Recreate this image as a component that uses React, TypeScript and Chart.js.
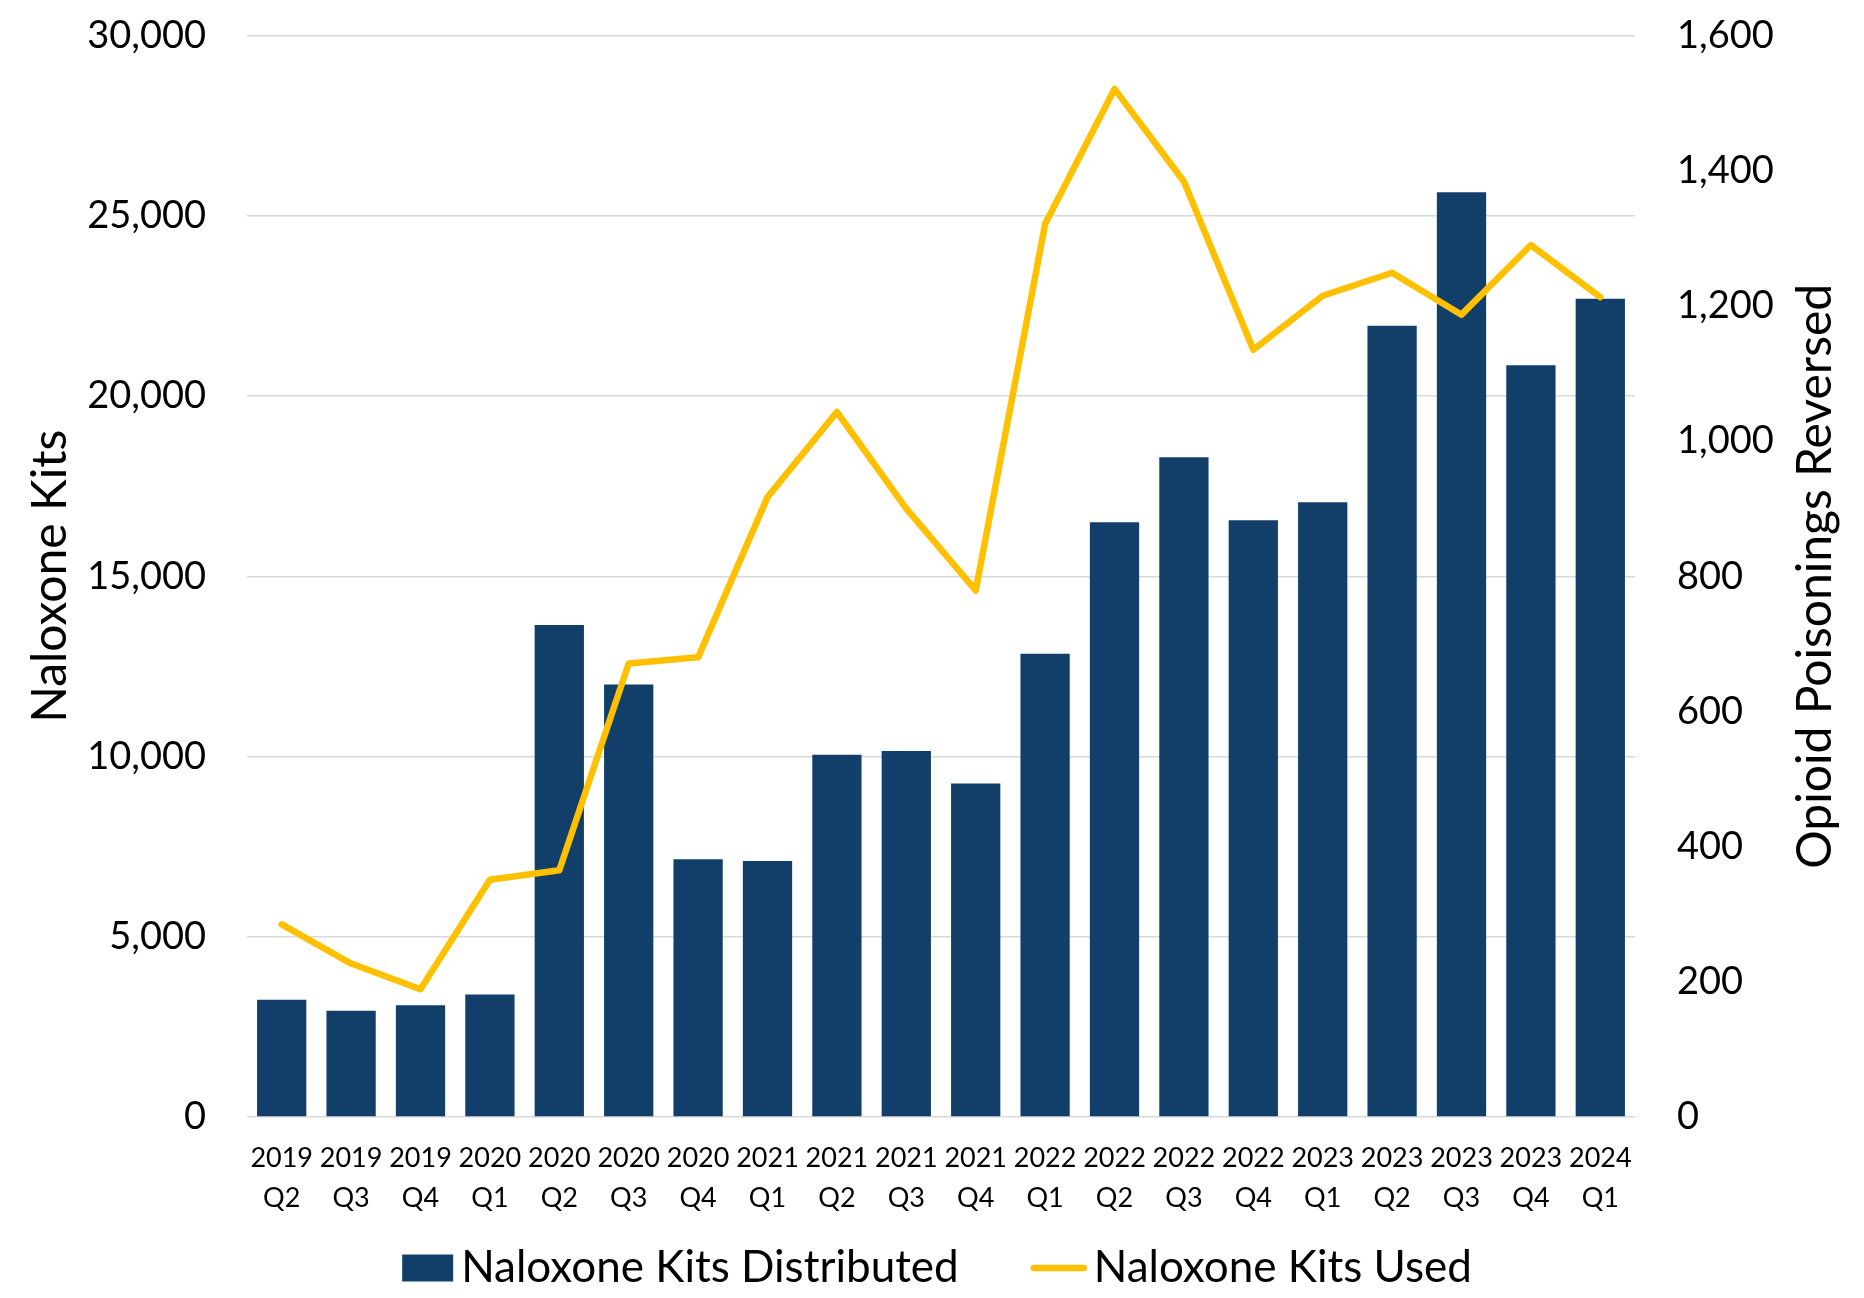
import React, { useEffect, useRef } from "react";
import { Chart, registerables } from "chart.js";

Chart.register(...registerables);

const FONT = "Lato, 'Open Sans', sans-serif";

const categories: string[][] = [
  ["2019", "Q2"], ["2019", "Q3"], ["2019", "Q4"], ["2020", "Q1"], ["2020", "Q2"],
  ["2020", "Q3"], ["2020", "Q4"], ["2021", "Q1"], ["2021", "Q2"], ["2021", "Q3"],
  ["2021", "Q4"], ["2022", "Q1"], ["2022", "Q2"], ["2022", "Q3"], ["2022", "Q4"],
  ["2023", "Q1"], ["2023", "Q2"], ["2023", "Q3"], ["2023", "Q4"], ["2024", "Q1"],
];

const kitsDistributed: number[] = [
  3250, 2950, 3100, 3400, 13650, 12000, 7150, 7100, 10050, 10150,
  9250, 12850, 16500, 18300, 16550, 17050, 21950, 25650, 20850, 22700,
];

const kitsUsed: number[] = [
  285, 227, 189, 351, 365, 671, 680, 917, 1043, 900,
  779, 1321, 1521, 1384, 1135, 1215, 1249, 1187, 1290, 1213,
];

const leftAxisMax = 30000;
const leftAxisStep = 5000;
const rightAxisMax = 1600;
const rightAxisStep = 200;

const leftTitle = "Naloxone Kits";
const rightTitle = "Opioid Poisonings Reversed";
const barLabel = "Naloxone Kits Distributed";
const lineLabel = "Naloxone Kits Used";

const BAR_COLOR = "#123F69";
const LINE_COLOR = "#FFC000";
const GRID_COLOR = "#D9D9D9";

const decorPlugin = {
  id: "decor",
  afterDraw(chart: any) {
    const ctx: CanvasRenderingContext2D = chart.ctx;
    const area = chart.chartArea;
    const midY = (area.top + area.bottom) / 2;
    ctx.save();
    ctx.fillStyle = "#000";
    ctx.font = `48px ${FONT}`;
    ctx.textAlign = "center";
    ctx.textBaseline = "middle";
    // left title
    ctx.save();
    ctx.translate(43, midY);
    ctx.rotate(-Math.PI / 2);
    ctx.fillText(leftTitle, 0, 0);
    ctx.restore();
    // right title (reads bottom to top)
    ctx.save();
    ctx.translate(1808, midY);
    ctx.rotate(-Math.PI / 2);
    ctx.fillText(rightTitle, 0, 0);
    ctx.restore();

    // legend
    const legendY = 1260;
    const boxW = 51, boxH = 27, boxGap = 8;
    const lineW = 56, lineGap = 7, itemGap = 72;
    ctx.font = `44px ${FONT}`;
    const t1 = ctx.measureText(barLabel).width;
    const t2 = ctx.measureText(lineLabel).width;
    const total = boxW + boxGap + t1 + itemGap + lineW + lineGap + t2;
    let x = 929 - total / 2;
    ctx.fillStyle = BAR_COLOR;
    ctx.fillRect(x, legendY - boxH / 2, boxW, boxH);
    x += boxW + boxGap;
    ctx.fillStyle = "#000";
    ctx.textAlign = "left";
    ctx.fillText(barLabel, x, legendY);
    x += t1 + itemGap;
    ctx.strokeStyle = LINE_COLOR;
    ctx.lineWidth = 6.5;
    ctx.lineCap = "round";
    ctx.beginPath();
    ctx.moveTo(x + 3, legendY);
    ctx.lineTo(x + lineW - 3, legendY);
    ctx.stroke();
    x += lineW + lineGap;
    ctx.fillText(lineLabel, x, legendY);
    ctx.restore();
  },
};

export default function App() {
  const ref = useRef<HTMLCanvasElement | null>(null);

  useEffect(() => {
    if (!ref.current) return;
    const chart = new Chart(ref.current, {
      type: "bar",
      data: {
        labels: categories,
        datasets: [
          {
            type: "line",
            label: lineLabel,
            data: kitsUsed,
            yAxisID: "y1",
            borderColor: LINE_COLOR,
            backgroundColor: LINE_COLOR,
            borderWidth: 6.5,
            pointRadius: 0,
            tension: 0,
            borderJoinStyle: "round",
            borderCapStyle: "round",
            order: 1,
          } as any,
          {
            type: "bar",
            label: barLabel,
            data: kitsDistributed,
            yAxisID: "y",
            backgroundColor: BAR_COLOR,
            borderWidth: 0,
            categoryPercentage: 1,
            barPercentage: 0.71,
            order: 2,
          } as any,
        ],
      },
      options: {
        responsive: false,
        devicePixelRatio: 1,
        animation: false,
        layout: { padding: { top: 27.5, left: 0, right: 0, bottom: 0 } },
        plugins: {
          legend: { display: false },
          tooltip: { enabled: false },
          title: { display: false },
        },
        scales: {
          x: {
            grid: { display: false, drawTicks: false },
            border: { display: false },
            ticks: {
              color: "#000",
              font: { family: FONT, size: 27, lineHeight: 1.5 },
              padding: 21,
              maxRotation: 0,
              autoSkip: false,
            },
            afterFit: (s: any) => {
              s.height = 173;
              s.paddingLeft = 0;
              s.paddingRight = 0;
            },
          },
          y: {
            position: "left",
            min: 0,
            max: leftAxisMax,
            grid: { color: GRID_COLOR, lineWidth: 1.5, drawTicks: false },
            border: { display: false },
            ticks: {
              stepSize: leftAxisStep,
              color: "#000",
              font: { family: FONT, size: 38 },
              padding: 41,
              callback: (v: any) => Number(v).toLocaleString("en-US"),
            },
            afterFit: (s: any) => {
              s.width = 239;
              s.paddingTop = 0;
              s.paddingBottom = 0;
            },
          },
          y1: {
            position: "right",
            min: 0,
            max: rightAxisMax,
            grid: { display: false, drawTicks: false },
            border: { display: false },
            ticks: {
              stepSize: rightAxisStep,
              color: "#000",
              font: { family: FONT, size: 38 },
              padding: 42,
              callback: (v: any) => Number(v).toLocaleString("en-US"),
            },
            afterFit: (s: any) => {
              s.width = 221;
              s.paddingTop = 0;
              s.paddingBottom = 0;
            },
          },
        },
      },
      plugins: [decorPlugin],
    });
    return () => chart.destroy();
  }, []);

  return (
    <div style={{ width: 1848, height: 1282 }}>
      <canvas ref={ref} width={1848} height={1282} style={{ display: "block" }} />
    </div>
  );
}
